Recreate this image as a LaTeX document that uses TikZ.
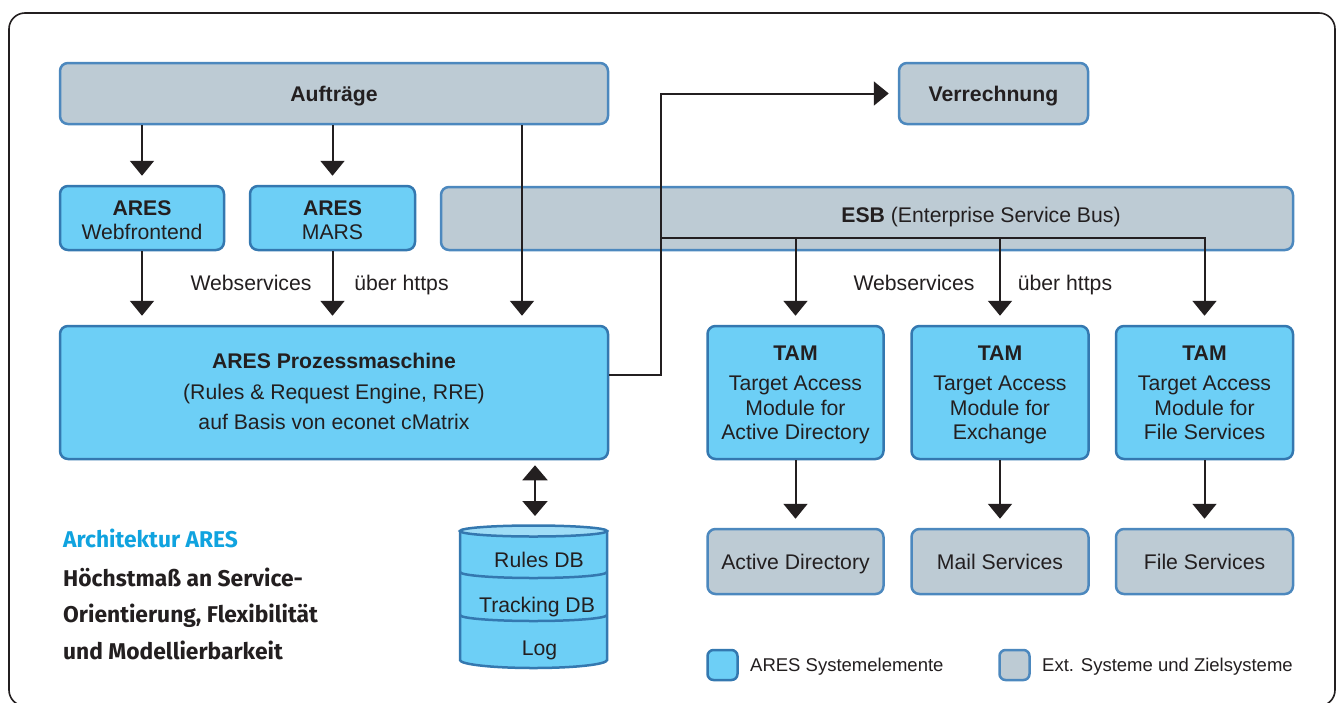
\documentclass[tikz,border=0pt]{standalone}
\usepackage{fontspec}
\setmainfont{Liberation Sans}
\newfontfamily\capfont{Fira Sans}
\usetikzlibrary{arrows.meta}
\definecolor{txt}{HTML}{231F20}
\definecolor{aresfill}{HTML}{6DCFF6}
\definecolor{aresline}{HTML}{3478B0}
\definecolor{extfill}{HTML}{BDCBD4}
\definecolor{extline}{HTML}{4C88BE}
\definecolor{dbtopfill}{HTML}{9FDDF7}
\definecolor{capblue}{HTML}{10A3DF}
\newcommand\mytop[1]{\rule{0pt}{#1}}
\newcommand\mybot[1]{\rule[-#1]{0pt}{0pt}}
\tikzset{
  box/.style={draw, rounded corners=8pt, line width=2.5pt, inner sep=0pt, align=center, text=txt,
    font=\fontsize{21.2}{24.5}\selectfont},
  bluebox/.style={box, fill=aresfill, draw=aresline},
  greybox/.style={box, fill=extfill, draw=extline},
  oneline/.style={text height=16pt, text depth=1pt},
  conn/.style={line width=2pt, draw=txt, -{Triangle[width=24pt,length=15pt]}, shorten >=9pt},
  lbl/.style={text=txt, font=\fontsize{21.2}{24.5}\selectfont, inner sep=0pt, oneline},
  legtxt/.style={text=txt, font=\fontsize{18.5}{22}\selectfont, inner sep=0pt, anchor=west, text height=14pt, text depth=1pt},
  captxt/.style={text=txt, font=\capfont\bfseries\fontsize{22.8}{26}\selectfont, inner sep=0pt, anchor=base west}
}
\begin{document}
\begin{tikzpicture}[x=1pt,y=-1pt]
\useasboundingbox (0,0) rectangle (1338,702);
\clip (0,0) rectangle (1338,702);
\fill[white] (0,0) rectangle (1338,702);
% frame
\draw[line width=1.6pt, draw=txt, rounded corners=16pt] (9,13) rectangle (1335,706);

% boxes
\node[greybox, oneline, minimum width=548, minimum height=61] (auf) at (334,93.5) {\textbf{Aufträge}};
\node[greybox, oneline, minimum width=189, minimum height=61] (ver) at (993.5,93.5) {\textbf{Verrechnung}};
\node[bluebox, minimum width=164, minimum height=64] (web) at (142,218) {\mytop{22pt}\textbf{ARES}\\Webfrontend\mybot{3pt}};
\node[bluebox, minimum width=165, minimum height=64] (mars) at (332.5,218) {\mytop{22pt}\textbf{ARES}\\MARS\mybot{3pt}};
\node[greybox, minimum width=852, minimum height=63] (esb) at (867,218.5) {};
\node[lbl] (esbtxt) at (981,215) {\textbf{ESB} (Enterprise Service Bus)};
\node[bluebox, minimum width=548, minimum height=133] (pm) at (334,392.5)
  {\mytop{19pt}\textbf{ARES Prozessmaschine}\\[6pt](Rules \& Request Engine, RRE)\\[6pt]auf Basis von econet cMatrix\mybot{6pt}};
\node[bluebox, minimum width=176, minimum height=133] (tam1) at (795.5,392.5)
  {\mytop{21.5pt}\textbf{TAM}\\[5.5pt]Target Access\\Module for\\Active Directory\mybot{6pt}};
\node[bluebox, minimum width=177, minimum height=133] (tam2) at (1000,392.5)
  {\mytop{21.5pt}\textbf{TAM}\\[5.5pt]Target Access\\Module for\\Exchange\mybot{6pt}};
\node[bluebox, minimum width=177, minimum height=133] (tam3) at (1204.5,392.5)
  {\mytop{21.5pt}\textbf{TAM}\\[5.5pt]Target Access\\Module for\\File Services\mybot{6pt}};
\node[greybox, oneline, minimum width=176, minimum height=65] (ad) at (795.5,561.5) {Active Directory};
\node[greybox, oneline, minimum width=177, minimum height=65] (mail) at (1000,561.5) {Mail Services};
\node[greybox, oneline, minimum width=177, minimum height=65] (file) at (1204.5,561.5) {File Services};

% database cylinder
\coordinate (dbtop) at (535,526);
\filldraw[fill=aresfill, draw=aresline, line width=2.5pt]
  (460,531) -- (460,660) arc[start angle=180, end angle=0, x radius=73.5, y radius=8] -- (607,531) -- cycle;
\filldraw[fill=dbtopfill, draw=aresline, line width=2.5pt] (533.5,531) ellipse[x radius=73.5, y radius=5.5];
\draw[draw=aresline, line width=2.5pt] (460,572) arc[start angle=180, end angle=0, x radius=73.5, y radius=6];
\draw[draw=aresline, line width=2.5pt] (460,615) arc[start angle=180, end angle=0, x radius=73.5, y radius=6];
\node[lbl] (rdb) at (539,560) {Rules DB};
\node[lbl] (tdb) at (537,605) {Tracking DB};
\node[lbl] (log) at (539.5,648) {Log};

% connectors
\coordinate (a3) at (522,0);
\coordinate (bend) at (661,0);
\coordinate (esbj) at (661,237.5);
\coordinate (pmout) at ([yshift=17.5pt]pm.east);
\draw[conn] (auf.south -| web.north) -- (web.north);
\draw[conn] (auf.south -| mars.north) -- (mars.north);
\draw[conn] (auf.south -| a3) -- (pm.north -| a3);
\draw[conn] (web.south) -- (web.south |- pm.north);
\draw[conn] (mars.south) -- (mars.south |- pm.north);
\draw[conn] (pmout) -- (bend |- pmout) -- (bend |- ver.west) -- (ver.west);
\draw[conn] (esbj) -- (esbj -| tam3.north) -- (tam3.north);
\draw[conn] (esbj -| tam1.north) -- (tam1.north);
\draw[conn] (esbj -| tam2.north) -- (tam2.north);
\draw[conn] (tam1.south) -- (ad.north);
\draw[conn] (tam2.south) -- (mail.north);
\draw[conn] (tam3.south) -- (file.north);
\draw[line width=2pt, draw=txt, {Triangle[width=25pt,length=15pt]}-{Triangle[width=25pt,length=15pt]},
  shorten <=5pt, shorten >=10pt] (pm.south -| dbtop) -- (dbtop);

% labels
\node[lbl] (ws1) at (251,283) {Webservices};
\node[lbl] (uh1) at (401.5,283) {über https};
\node[lbl] (ws2) at (914,283) {Webservices};
\node[lbl] (uh2) at (1065,283) {über https};

% caption
\node[captxt, text=capblue] (c1) at (63,547) {Architektur ARES};
\node[captxt] (c2) at (63,586) {Höchstmaß an Service-};
\node[captxt] (c3) at (63,622) {Orientierung, Flexibilität};
\node[captxt] (c4) at (63,659) {und Modellierbarkeit};

% legend
\node[bluebox, rounded corners=6pt, minimum width=30, minimum height=30] (lg1) at (722.5,665) {};
\node[legtxt] (lt1) at (750,665) {ARES Systemelemente};
\node[greybox, rounded corners=6pt, minimum width=30, minimum height=30] (lg2) at (1014.5,665) {};
\node[legtxt] (lt2) at (1042,665) {Ext. Systeme und Zielsysteme};
\end{tikzpicture}
\end{document}
